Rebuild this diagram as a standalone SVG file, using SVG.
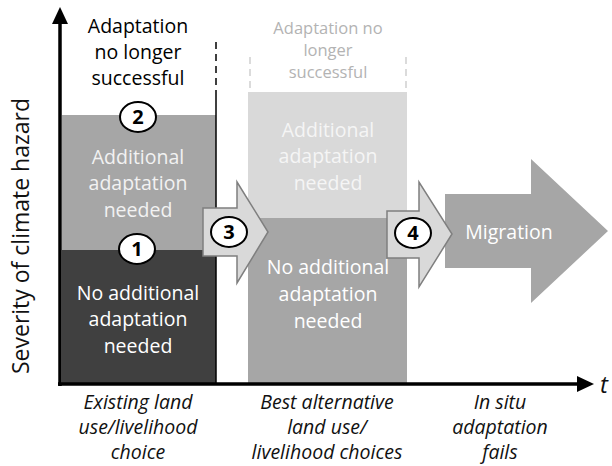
<svg xmlns="http://www.w3.org/2000/svg" width="612" height="466" viewBox="0 0 612 466">
<style>
text{font-family:"Open Sans","Noto Sans","Liberation Sans",sans-serif;text-anchor:middle}
.lbl{font-size:19.5px}
.w{fill:#ffffff}
.it{font-style:italic;font-size:19.5px;fill:#111}
.num{font-size:20px;font-weight:bold;fill:#000}
.circ{fill:#fff;stroke:#000;stroke-width:2}
.arr{fill:#d9d9d9;stroke:#7f7f7f;stroke-width:1.5}
</style>
<rect width="612" height="466" fill="#fff"/>
<g id="existing">
<rect x="62" y="115" width="154" height="135" fill="#a6a6a6"/>
<rect x="62" y="250" width="154" height="134" fill="#404040"/>
<line x1="216" y1="95" x2="216" y2="384" stroke="#000" stroke-width="1.5"/>
<line x1="216" y1="42" x2="216" y2="95" stroke="#000" stroke-width="1.5" stroke-dasharray="7,5"/>
<text class="lbl" x="138" y="33" fill="#000">Adaptation</text>
<text class="lbl" x="138" y="59" fill="#000">no longer</text>
<text class="lbl" x="138" y="85" fill="#000">successful</text>
<text class="lbl" x="138" y="164" fill="#f2f2f2">Additional</text>
<text class="lbl" x="138" y="190" fill="#f2f2f2">adaptation</text>
<text class="lbl" x="138" y="217" fill="#f2f2f2">needed</text>
<text class="lbl w" x="138" y="300">No additional</text>
<text class="lbl w" x="138" y="326">adaptation</text>
<text class="lbl w" x="138" y="353">needed</text>
</g>
<g id="alternative">
<rect x="248" y="92" width="159" height="126" fill="#d9d9d9"/>
<rect x="248" y="218" width="159" height="166" fill="#a6a6a6"/>
<line x1="250" y1="57" x2="250" y2="92" stroke="#d0d0d0" stroke-width="1.5" stroke-dasharray="7,5"/>
<line x1="406" y1="57" x2="406" y2="92" stroke="#d0d0d0" stroke-width="1.5" stroke-dasharray="7,5"/>
<text x="328" y="34" font-size="16.5" fill="#b3b3b3">Adaptation no</text>
<text x="328" y="56" font-size="16.5" fill="#b3b3b3">longer</text>
<text x="328" y="78" font-size="16.5" fill="#b3b3b3">successful</text>
<text class="lbl" x="328" y="137" fill="#f5f5f5">Additional</text>
<text class="lbl" x="328" y="163" fill="#f5f5f5">adaptation</text>
<text class="lbl" x="328" y="190" fill="#f5f5f5">needed</text>
<text class="lbl w" x="328" y="274">No additional</text>
<text class="lbl w" x="328" y="301">adaptation</text>
<text class="lbl w" x="328" y="328">needed</text>
</g>
<g id="migration">
<polygon points="445,194 531,194 531,159 608,231 531,303 531,268 445,268" fill="#a6a6a6"/>
<text class="lbl w" x="509" y="239" font-size="19">Migration</text>
</g>
<g id="connectors">
<polygon class="arr" points="203,208 237,208 237,182 268,232 237,283 237,256 203,256"/>
<polygon class="arr" points="387,211 419,211 419,182 452,234 419,287 419,258 387,258"/>
<line x1="60" y1="386" x2="60" y2="22" stroke="#000" stroke-width="3.5"/>
<polygon points="60,7 52,24 68,24" fill="#000"/>
<line x1="58" y1="384" x2="578" y2="384" stroke="#000" stroke-width="3.5"/>
<polygon points="594,384 577,376 577,392" fill="#000"/>
</g>
<g id="c1"><ellipse class="circ" cx="137" cy="249" rx="18" ry="15"/><text class="num" x="137" y="256">1</text></g>
<g id="c2"><ellipse class="circ" cx="138" cy="117" rx="18" ry="15"/><text class="num" x="138" y="124">2</text></g>
<g id="c3"><ellipse class="circ" cx="229" cy="232" rx="18" ry="15"/><text class="num" x="229" y="239">3</text></g>
<g id="c4"><ellipse class="circ" cx="413" cy="233" rx="18" ry="15"/><text class="num" x="413" y="240">4</text></g>
<g id="axislabels">
<text x="0" y="0" font-size="23" fill="#111" transform="translate(29,236) rotate(-90)">Severity of climate hazard</text>
<text x="604" y="393" font-size="24" font-style="italic" fill="#111">t</text>
<text class="it" x="138" y="409">Existing land</text>
<text class="it" x="138" y="434">use/livelihood</text>
<text class="it" x="138" y="459">choice</text>
<text class="it" x="327" y="409">Best alternative</text>
<text class="it" x="327" y="434">land use/</text>
<text class="it" x="327" y="459">livelihood choices</text>
<text class="it" x="500" y="409">In situ</text>
<text class="it" x="500" y="434">adaptation</text>
<text class="it" x="500" y="459">fails</text>
</g>
</svg>
